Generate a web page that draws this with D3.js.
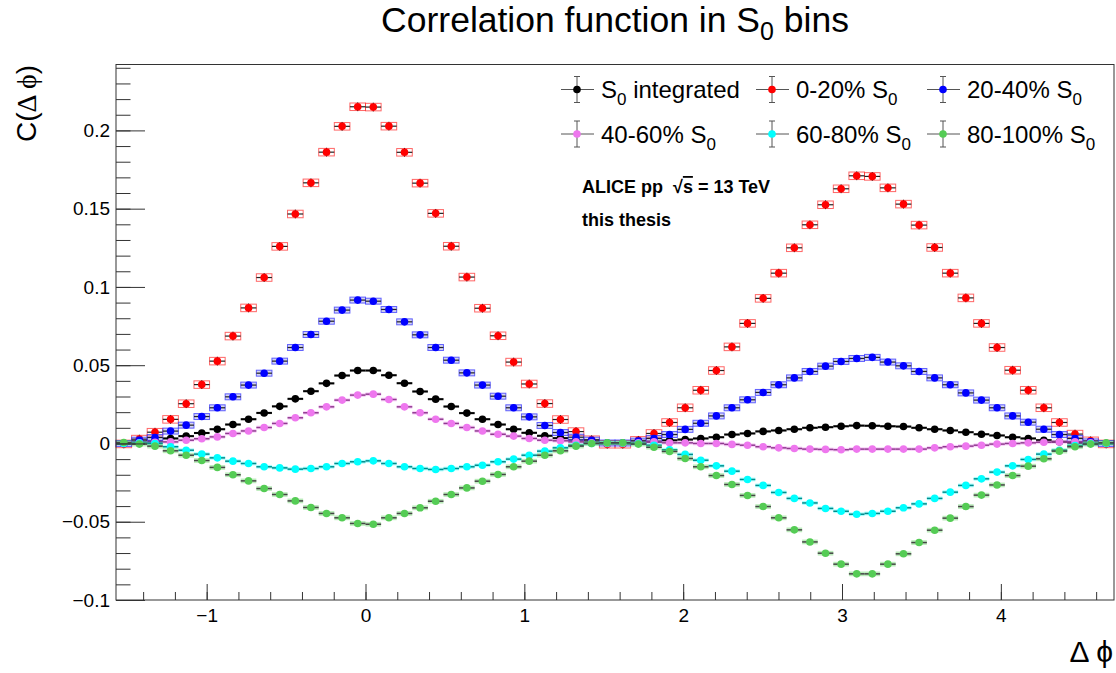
<!DOCTYPE html>
<html>
<head>
<meta charset="utf-8">
<script src="https://cdn.jsdelivr.net/npm/d3@7"></script>
<style>
  body { margin: 0; background: #fff; }
  text { font-family: "Liberation Sans", Arial, sans-serif; fill: #000; }
</style>
</head>
<body>
<div id="chart"></div>
<script>
// 64 bins in delta phi, from -pi/2 to 3pi/2
var nBins = 64;
var dphi = d3.range(nBins).map(function(i) { return -Math.PI / 2 + (i + 0.5) * Math.PI / 32; });

// values, one array per S0 class
var cIntegrated = [
  0.0000, 0.0008, 0.0016, 0.0032, 0.0047, 0.0067, 0.0091, 0.0121, 0.0155, 0.0195, 0.0237, 0.0285, 0.0334, 0.0384, 0.0434, 0.0466,
  0.0466, 0.0436, 0.0385, 0.0332, 0.0283, 0.0236, 0.0194, 0.0155, 0.0121, 0.0091, 0.0068, 0.0049, 0.0034, 0.0020, 0.0010, 0.0002,
  0.0002, 0.0008, 0.0012, 0.0020, 0.0025, 0.0032, 0.0040, 0.0057, 0.0064, 0.0077, 0.0083, 0.0091, 0.0100, 0.0104, 0.0110, 0.0114,
  0.0113, 0.0110, 0.0108, 0.0100, 0.0091, 0.0083, 0.0072, 0.0059, 0.0051, 0.0040, 0.0032, 0.0021, 0.0011, 0.0005, 0.0001, 0.0000
];
var c0to20 = [
  -0.0003, 0.0028, 0.0072, 0.0154, 0.0254, 0.0376, 0.0526, 0.0686, 0.0866, 0.1060, 0.1259, 0.1466, 0.1665, 0.1861, 0.2026, 0.2151,
  0.2149, 0.2027, 0.1860, 0.1663, 0.1470, 0.1260, 0.1063, 0.0864, 0.0688, 0.0520, 0.0380, 0.0255, 0.0153, 0.0076, 0.0024, -0.0005,
  -0.0005, 0.0020, 0.0064, 0.0134, 0.0228, 0.0340, 0.0466, 0.0617, 0.0767, 0.0927, 0.1088, 0.1250, 0.1397, 0.1525, 0.1627, 0.1710,
  0.1706, 0.1633, 0.1529, 0.1395, 0.1252, 0.1088, 0.0930, 0.0767, 0.0613, 0.0468, 0.0340, 0.0228, 0.0134, 0.0060, 0.0017, -0.0003
];
var c20to40 = [
  0.0000, 0.0021, 0.0038, 0.0079, 0.0117, 0.0172, 0.0228, 0.0298, 0.0373, 0.0449, 0.0526, 0.0613, 0.0696, 0.0781, 0.0852, 0.0916,
  0.0909, 0.0856, 0.0777, 0.0694, 0.0613, 0.0532, 0.0451, 0.0373, 0.0302, 0.0228, 0.0170, 0.0115, 0.0070, 0.0040, 0.0021, 0.0003,
  0.0003, 0.0015, 0.0032, 0.0057, 0.0090, 0.0129, 0.0176, 0.0228, 0.0279, 0.0326, 0.0375, 0.0419, 0.0460, 0.0494, 0.0524, 0.0543,
  0.0550, 0.0520, 0.0496, 0.0460, 0.0419, 0.0375, 0.0323, 0.0277, 0.0228, 0.0176, 0.0136, 0.0091, 0.0057, 0.0032, 0.0010, 0.0000
];
var c40to60 = [
  0.0000, 0.0005, 0.0008, 0.0010, 0.0021, 0.0030, 0.0042, 0.0064, 0.0080, 0.0102, 0.0128, 0.0164, 0.0196, 0.0234, 0.0277, 0.0309,
  0.0315, 0.0281, 0.0234, 0.0196, 0.0155, 0.0128, 0.0102, 0.0080, 0.0059, 0.0047, 0.0032, 0.0021, 0.0017, 0.0010, 0.0005, 0.0000,
  0.0000, 0.0005, 0.0010, 0.0004, 0.0004, 0.0000, 0.0000, -0.0006, -0.0011, -0.0021, -0.0028, -0.0032, -0.0036, -0.0038, -0.0040, -0.0036,
  -0.0036, -0.0036, -0.0036, -0.0036, -0.0028, -0.0021, -0.0017, -0.0011, -0.0004, 0.0000, 0.0004, 0.0008, 0.0010, 0.0010, 0.0004, 0.0000
];
var c60to80 = [
  0.0000, 0.0002, 0.0000, -0.0021, -0.0043, -0.0068, -0.0092, -0.0113, -0.0128, -0.0149, -0.0156, -0.0164, -0.0160, -0.0149, -0.0128, -0.0117,
  -0.0111, -0.0128, -0.0149, -0.0160, -0.0166, -0.0160, -0.0149, -0.0139, -0.0117, -0.0100, -0.0075, -0.0049, -0.0028, -0.0011, 0.0000, 0.0003,
  0.0003, 0.0000, -0.0011, -0.0040, -0.0070, -0.0107, -0.0143, -0.0177, -0.0230, -0.0268, -0.0313, -0.0351, -0.0380, -0.0415, -0.0433, -0.0452,
  -0.0447, -0.0433, -0.0411, -0.0386, -0.0351, -0.0311, -0.0268, -0.0226, -0.0183, -0.0143, -0.0102, -0.0068, -0.0043, -0.0013, 0.0000, 0.0000
];
var c80to100 = [
  0.0006, -0.0004, -0.0017, -0.0047, -0.0075, -0.0109, -0.0153, -0.0200, -0.0239, -0.0288, -0.0326, -0.0367, -0.0409, -0.0447, -0.0475, -0.0511,
  -0.0516, -0.0475, -0.0447, -0.0411, -0.0369, -0.0326, -0.0284, -0.0241, -0.0198, -0.0149, -0.0113, -0.0075, -0.0047, -0.0017, 0.0000, 0.0004,
  0.0004, -0.0004, -0.0024, -0.0051, -0.0096, -0.0149, -0.0205, -0.0262, -0.0332, -0.0403, -0.0475, -0.0552, -0.0629, -0.0701, -0.0771, -0.0833,
  -0.0833, -0.0771, -0.0705, -0.0633, -0.0554, -0.0477, -0.0403, -0.0330, -0.0265, -0.0205, -0.0145, -0.0098, -0.0049, -0.0021, -0.0004, 0.0004
];

// legend labels: [text, subscript, text after]
var legendLabels = [
  ["S", "0", " integrated"], ["0-20% S", "0", ""], ["20-40% S", "0", ""],
  ["40-60% S", "0", ""], ["60-80% S", "0", ""], ["80-100% S", "0", ""]
];
var sysErr = [0.0008, 0.0024, 0.0019, 0.0012, 0.0012, 0.0015];
var statErr = [0.0008, 0.0028, 0.0015, 0.0008, 0.0008, 0.0008];

var yMajor = [-0.1, -0.05, 0, 0.05, 0.1, 0.15, 0.2];
var yMinor = d3.range(-10, 25).map(function(k) { return k / 100; });
var xMajor = [-1, 0, 1, 2, 3, 4];
var xMinor = d3.range(-7, 24).map(function(k) { return k / 5; });

var w = 1116, h = 673;
// frame edges (note: "top" is taken by window.top)
var fLeft = 116, fRight = 1114, fTop = 64.5, fBottom = 600;

var styles = [
  { color: "#000000", line: "#000000", lw: 2, boxFill: "#777777", boxOp: 0.35, boxStroke: "none" },
  { color: "#ff0000", line: "#222222", lw: 1.2, boxFill: "none", boxOp: 0, boxStroke: "#ff3333" },
  { color: "#0000ff", line: "#222222", lw: 1.2, boxFill: "#5555cc", boxOp: 0.25, boxStroke: "#3333ff" },
  { color: "#ee77ee", line: "#8f3a8f", lw: 1.5, boxFill: "#ee77ee", boxOp: 0.35, boxStroke: "none" },
  { color: "#00ffff", line: "#008b8b", lw: 1.5, boxFill: "#00ffff", boxOp: 0.35, boxStroke: "none" },
  { color: "#55cc55", line: "#444444", lw: 1.5, boxFill: "#55cc55", boxOp: 0.4, boxStroke: "none" }
];
var allSeries = [cIntegrated, c0to20, c20to40, c40to60, c60to80, c80to100];

var x = d3.scaleLinear().domain([-Math.PI / 2, 3 * Math.PI / 2]).range([fLeft, fRight]);
var y = d3.scaleLinear().domain([-0.1, 0.2421]).range([fBottom, fTop]);
var binW = x(dphi[1]) - x(dphi[0]);

var svg = d3.select("#chart").append("svg")
            .attr("width", w)
            .attr("height", h);

svg.append("rect").attr("width", w).attr("height", h).attr("fill", "#fff");

// data
allSeries.forEach(function(vals, s) {
  var st = styles[s];
  var g = svg.append("g");

  g.selectAll("rect")
   .data(vals)
   .enter()
   .append("rect")
   .attr("x", function(d, i) { return x(dphi[i]) - binW / 2; })
   .attr("y", function(d) { return y(d + sysErr[s]); })
   .attr("width", binW)
   .attr("height", function(d) { return y(d - sysErr[s]) - y(d + sysErr[s]); })
   .attr("fill", st.boxFill)
   .attr("fill-opacity", st.boxOp)
   .attr("stroke", st.boxStroke)
   .attr("stroke-opacity", 0.75);

  g.selectAll("line.ex")
   .data(vals)
   .enter()
   .append("line")
   .attr("class", "ex")
   .attr("x1", function(d, i) { return x(dphi[i]) - binW / 2; })
   .attr("x2", function(d, i) { return x(dphi[i]) + binW / 2; })
   .attr("y1", function(d) { return y(d); })
   .attr("y2", function(d) { return y(d); })
   .attr("stroke", st.line)
   .attr("stroke-width", st.lw);

  g.selectAll("line.ey")
   .data(vals)
   .enter()
   .append("line")
   .attr("class", "ey")
   .attr("x1", function(d, i) { return x(dphi[i]); })
   .attr("x2", function(d, i) { return x(dphi[i]); })
   .attr("y1", function(d) { return y(d - statErr[s]); })
   .attr("y2", function(d) { return y(d + statErr[s]); })
   .attr("stroke", st.line)
   .attr("stroke-width", 1);

  g.selectAll("circle")
   .data(vals)
   .enter()
   .append("circle")
   .attr("cx", function(d, i) { return x(dphi[i]); })
   .attr("cy", function(d) { return y(d); })
   .attr("r", 3.8)
   .attr("fill", st.color);
});

// axes
function fmtY(d) {
  if (d === 0) return "0";
  return String(+d.toFixed(2)).replace("-", "\u2212");
}
function fmtX(d) {
  return String(d).replace("-", "\u2212");
}

var yMin = svg.append("g")
   .attr("transform", "translate(" + fLeft + ",0)")
   .call(d3.axisLeft(y).tickValues(yMinor).tickSize(-14.5).tickSizeOuter(0).tickFormat(""));
var yMaj = svg.append("g")
   .attr("transform", "translate(" + fLeft + ",0)")
   .call(d3.axisLeft(y).tickValues(yMajor).tickSize(-29).tickSizeOuter(0).tickPadding(6).tickFormat(fmtY));
var xMin = svg.append("g")
   .attr("transform", "translate(0," + fBottom + ")")
   .call(d3.axisBottom(x).tickValues(xMinor).tickSize(-8).tickSizeOuter(0).tickFormat(""));
var xMaj = svg.append("g")
   .attr("transform", "translate(0," + fBottom + ")")
   .call(d3.axisBottom(x).tickValues(xMajor).tickSize(-16).tickSizeOuter(0).tickPadding(9).tickFormat(fmtX));

[yMin, yMaj, xMin, xMaj].forEach(function(a) {
  a.select(".domain").remove();
  a.selectAll("line").attr("stroke", "#333");
  a.selectAll("text").attr("font-size", 19).attr("font-family", "Liberation Sans, Arial, sans-serif").attr("fill", "#000");
});

// frame
svg.append("rect")
   .attr("x", fLeft)
   .attr("y", fTop)
   .attr("width", fRight - fLeft)
   .attr("height", fBottom - fTop)
   .attr("fill", "none")
   .attr("stroke", "#333")
   .attr("stroke-width", 1);

// title
var title = svg.append("text")
   .attr("x", 615)
   .attr("y", 32)
   .attr("text-anchor", "middle")
   .attr("font-size", 35.5);
title.append("tspan").text("Correlation function in S");
title.append("tspan").attr("font-size", 25).attr("dy", 8).text("0");
title.append("tspan").attr("dy", -8).text(" bins");

// axis titles
var yt = svg.append("text")
   .attr("transform", "translate(36,65) rotate(-90)")
   .attr("text-anchor", "end")
   .attr("font-size", 28);
yt.append("tspan").text("C(");
yt.append("tspan").attr("font-family", "Liberation Serif, serif").text("\u0394 \u03d5");
yt.append("tspan").text(")");

svg.append("text")
   .attr("x", 1113)
   .attr("y", 662)
   .attr("text-anchor", "end")
   .attr("font-size", 30)
   .attr("font-family", "Liberation Serif, serif")
   .text("\u0394 \u03d5");

// legend
var legX = [577, 772, 943];
var legY = [89.5, 134];
legendLabels.forEach(function(lab, k) {
  var mx = legX[k % 3], my = legY[Math.floor(k / 3)];
  var lg = svg.append("g");
  lg.append("line").attr("x1", mx - 16).attr("x2", mx + 17).attr("y1", my).attr("y2", my)
    .attr("stroke", "#555");
  lg.append("line").attr("x1", mx).attr("x2", mx).attr("y1", my - 13).attr("y2", my + 13)
    .attr("stroke", "#555");
  lg.append("line").attr("x1", mx - 3).attr("x2", mx + 3).attr("y1", my - 13).attr("y2", my - 13)
    .attr("stroke", "#555");
  lg.append("line").attr("x1", mx - 3).attr("x2", mx + 3).attr("y1", my + 13).attr("y2", my + 13)
    .attr("stroke", "#555");
  lg.append("circle").attr("cx", mx).attr("cy", my).attr("r", 3.8).attr("fill", styles[k].color);
  var t = lg.append("text")
    .attr("x", mx + 24)
    .attr("y", my + 8.5)
    .attr("font-size", 24);
  t.append("tspan").text(lab[0]);
  t.append("tspan").attr("font-size", 17).attr("dy", 7).text(lab[1]);
  if (lab[2]) t.append("tspan").attr("dy", -7).text(lab[2]);
});

// ALICE label
var al = svg.append("text")
   .attr("x", 582)
   .attr("y", 193)
   .attr("font-size", 18)
   .attr("font-weight", "bold")
   .style("white-space", "pre");
al.append("tspan").text("ALICE pp  \u221A");
al.append("tspan").attr("text-decoration", "overline").text("s");
al.append("tspan").text(" = 13 TeV");

svg.append("text")
   .attr("x", 582)
   .attr("y", 226)
   .attr("font-size", 18)
   .attr("font-weight", "bold")
   .text("this thesis");
</script>
</body>
</html>
